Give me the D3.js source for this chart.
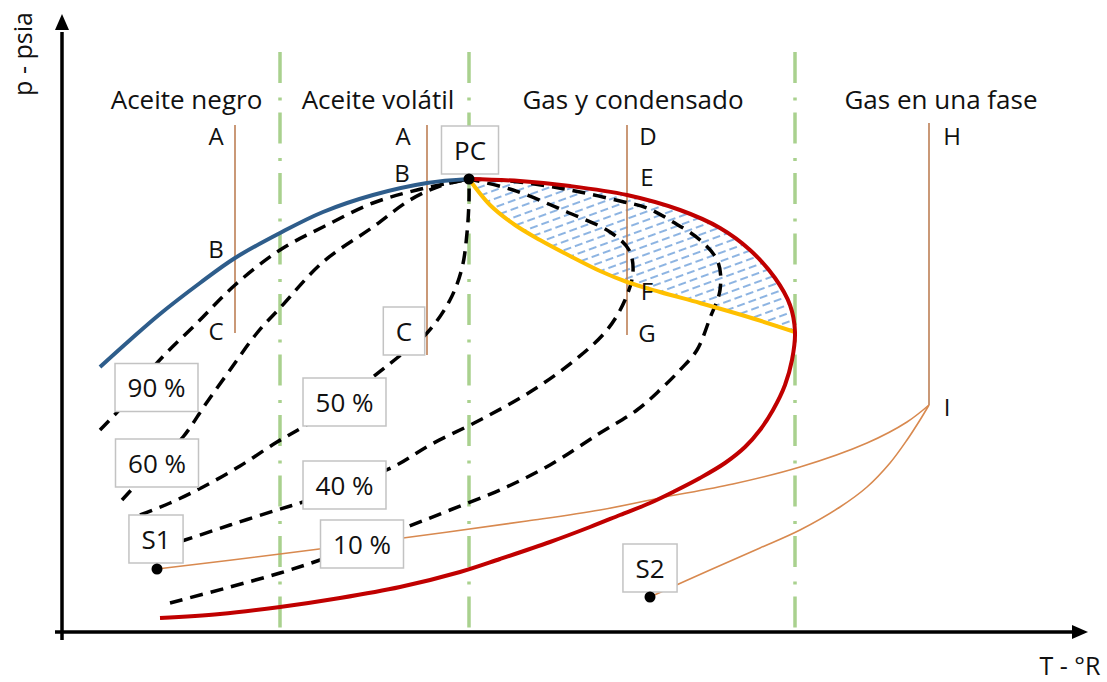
<!DOCTYPE html>
<html lang="es">
<head>
<meta charset="utf-8">
<title>Diagrama de fases p-T</title>
<script src="https://cdn.jsdelivr.net/npm/d3@7/dist/d3.min.js"></script>
<style>
  html, body { margin: 0; padding: 0; background: #fff; }
  svg { display: block; font-family: "Open Sans", "Noto Sans", sans-serif; }
</style>
</head>
<body>
<svg id="chart" width="1107" height="682"></svg>
<script>
// Schematic p-T phase envelope of a reservoir fluid (arbitrary T and p units).

// Bubble-point curve (blue), from low T up to the critical point
const bubbleCurve = [[38,265],[68,292],[98,318],[138,349],[173,374],[218,399],[261,420],[311,437],[365,449],[407,453]];
// Dew-point curve (red), from the critical point around the cricondentherm down to low p
const dewCurve = [[407,453],[458,451],[508,446],[565,437],[618,422],[658,404],[688,382],[713,354],[728,327],[733,300],
                  [730,272],[723,247],[711,222],[698,202],[683,185],[663,169],[638,154],[613,141],[588,129],[558,117],
                  [528,105],[488,90],[438,73],[398,60],[338,45],[278,34],[218,25],[158,18],[98,14]];
// Number of dew-curve points bounding the retrograde zone from above
const dewUpperCount = 10;
// Retrograde boundary (yellow), critical point to cricondentherm
const retroCurve = [[407,453],[428,427],[453,407],[478,392],[508,376],[538,361],[565,350],[598,340],[638,329],[683,316],[733,300]];

// Liquid-volume quality lines
const qualityNames = ["90 %", "60 %", "50 %", "40 %", "10 %"];
const quality90 = [[38,202],[68,234],[95,269],[135,309],[173,347],[218,382],[261,405],[311,429],[355,442],[407,453]];
const quality60 = [[60,132],[88,162],[121,195],[143,227],[168,262],[195,299],[218,324],[261,370],[311,405],[348,432],[378,446],[407,453]];
const quality50 = [[78,117],[108,129],[141,145],[178,166],[215,190],[241,205],[278,229],[311,255],[335,274],[365,299],[388,332],[400,364],[405,399],[407,432],[407,453]];
const quality40 = [[98,84],[123,92],[168,107],[215,122],[241,130],[278,144],[331,165],[368,187],[418,212],[468,240],[513,272],[545,302],[563,332],[571,360],[567,382],[548,400],[505,420],[451,442],[407,453]];
const quality10 = [[108,29],[168,45],[218,59],[258,72],[298,87],[345,105],[388,122],[438,142],[488,167],[538,199],[575,222],[598,242],[618,262],[635,282],[648,314],[658,342],[656,370],[638,392],[611,410],[585,424],[558,431],[518,440],[485,446],[448,451],[407,453]];
const qualityLines = [quality90, quality60, quality50, quality40, quality10];
// Label anchor (box centre) for each quality line
const qualityLabelT = [94.5, 95, 282.5, 282.5, 300];
const qualityLabelP = [244.5, 169, 230, 147, 88];

// Isothermal depletion paths: [T, p top, p bottom]
const isotherms = [[173,507,299],[365,507,277],[565,507,297],[867,509,227]];
// Separator paths from point I to the separators
const pathS1 = [[95,63],[218,78],[341,94],[465,111],[538,122],[598,134],[671,148],[738,165],[805,189],[845,210],[867,227]];
const pathS2 = [[588,35],[648,62],[698,84],[738,102],[778,125],[805,145],[828,169],[845,192],[858,212],[867,227]];

// Reservoir-type boundaries (temperature) and region titles
const boundaryT = [218, 407, 733];
const regionNames = ["Aceite negro", "Aceite volátil", "Gas y condensado", "Gas en una fase"];
const regionCenterT = [124.5, 316, 571, 879];

// Point letters along the isotherms
const pointNames = ["A","B","C","A","B","D","E","F","G","H","I"];
const pointT = [154, 154, 154, 341, 340, 586, 585, 585, 585, 890, 885];
const pointP = [487, 374, 292, 487, 450, 487, 446, 332, 290, 487, 216];

// Critical point and separators
const markerNames = ["PC", "S1", "S2"];
const markerT = [407, 95, 588];
const markerP = [453, 63, 35];
const markerLabelT = [408, 94, 588];
const markerLabelP = [482, 93, 64];
// Boxed label for point C of the volatile-oil isotherm
const boxedC = {name: "C", T: 342, p: 301};

const svg = d3.select("#chart");

const x = d3.scaleLinear().domain([0, 1026]).range([62, 1088]);
const y = d3.scaleLinear().domain([0, 620]).range([632, 12]);

const smooth = d3.line()
  .x(d => x(d[0])).y(d => y(d[1]))
  .curve(d3.curveCatmullRom.alpha(0.5));

// Hatch pattern for the retrograde condensation zone
const defs = svg.append("defs");
const pat = defs.append("pattern")
  .attr("id", "retro-hatch")
  .attr("patternUnits", "userSpaceOnUse")
  .attr("width", 12).attr("height", 8)
  .attr("patternTransform", "rotate(-20)");
pat.append("line")
  .attr("x1", 0).attr("y1", 4).attr("x2", 8).attr("y2", 4)
  .attr("stroke", "#8db4e2").attr("stroke-width", 2);

const upperPath = smooth(dewCurve.slice(0, dewUpperCount));
const lowerPath = smooth(retroCurve.slice().reverse());
svg.append("path")
  .attr("d", upperPath + lowerPath.replace(/^M/, "L") + "Z")
  .attr("fill", "url(#retro-hatch)")
  .attr("stroke", "none");

// Reservoir-type boundaries (green dash-dot)
svg.append("g").selectAll("line").data(boundaryT).join("line")
  .attr("x1", d => x(d)).attr("x2", d => x(d))
  .attr("y1", y(580)).attr("y2", y(0))
  .attr("stroke", "#a9d18e").attr("stroke-width", 3.5)
  .attr("stroke-dasharray", "31,14.5,3,12");

// Axes
const axisColor = "#000";
svg.append("line")
  .attr("x1", x(0)).attr("x2", x(0))
  .attr("y1", y(-8)).attr("y2", y(600))
  .attr("stroke", axisColor).attr("stroke-width", 3.5);
svg.append("path")
  .attr("d", `M${x(0)},${y(618)} L${x(0) - 7},${y(602)} L${x(0) + 7},${y(602)} Z`)
  .attr("fill", axisColor);
svg.append("line")
  .attr("x1", x(-7)).attr("x2", x(1012))
  .attr("y1", y(0)).attr("y2", y(0))
  .attr("stroke", axisColor).attr("stroke-width", 3.5);
svg.append("path")
  .attr("d", `M${x(1026)},${y(0)} L${x(1010)},${y(0) - 7} L${x(1010)},${y(0) + 7} Z`)
  .attr("fill", axisColor);

// Isothermal depletion paths
svg.append("g").selectAll("line").data(isotherms).join("line")
  .attr("x1", d => x(d[0])).attr("x2", d => x(d[0]))
  .attr("y1", d => y(d[1])).attr("y2", d => y(d[2]))
  .attr("stroke", "#bd7f55").attr("stroke-width", 1.6);

// Paths to separators
svg.append("g").selectAll("path").data([pathS1, pathS2]).join("path")
  .attr("d", smooth)
  .attr("fill", "none")
  .attr("stroke", "#d8894f").attr("stroke-width", 1.6);

// Quality lines
svg.append("g").selectAll("path").data(qualityLines).join("path")
  .attr("d", smooth)
  .attr("fill", "none")
  .attr("stroke", "#000").attr("stroke-width", 3.5)
  .attr("stroke-dasharray", "13,8");

// Bubble, dew and retrograde curves
svg.append("path").attr("d", smooth(bubbleCurve))
  .attr("fill", "none").attr("stroke", "#2e5d8b").attr("stroke-width", 4);
svg.append("path").attr("d", smooth(retroCurve))
  .attr("fill", "none").attr("stroke", "#ffc000").attr("stroke-width", 4);
svg.append("path").attr("d", smooth(dewCurve))
  .attr("fill", "none").attr("stroke", "#c00000").attr("stroke-width", 4);

// Boxed labels
function boxedLabel(text, T, p) {
  const g = svg.append("g").attr("transform", `translate(${x(T)},${y(p)})`);
  const rect = g.append("rect");
  const t = g.append("text")
    .attr("text-anchor", "middle")
    .attr("y", 9.5)
    .attr("font-size", 26)
    .attr("fill", "#111")
    .text(text);
  const w = t.node().getComputedTextLength() + 25;
  rect.attr("x", -w / 2).attr("y", -24).attr("width", w).attr("height", 48)
    .attr("fill", "#fff").attr("stroke", "#c3c3c3").attr("stroke-width", 1.5);
}
qualityNames.forEach((n, i) => boxedLabel(n, qualityLabelT[i], qualityLabelP[i]));
markerNames.forEach((n, i) => boxedLabel(n, markerLabelT[i], markerLabelP[i]));
boxedLabel(boxedC.name, boxedC.T, boxedC.p);

// Critical point and separator dots
svg.append("g").selectAll("circle").data(markerT).join("circle")
  .attr("cx", d => x(d)).attr("cy", (d, i) => y(markerP[i]))
  .attr("r", 5.5).attr("fill", "#000");

// Region titles
svg.append("g").selectAll("text").data(regionNames).join("text")
  .attr("x", (d, i) => x(regionCenterT[i])).attr("y", y(523))
  .attr("text-anchor", "middle")
  .attr("font-size", 26).attr("fill", "#111")
  .text(d => d);

// Point letters
svg.append("g").selectAll("text").data(pointNames).join("text")
  .attr("x", (d, i) => x(pointT[i])).attr("y", (d, i) => y(pointP[i]))
  .attr("text-anchor", "middle")
  .attr("font-size", 24).attr("fill", "#111")
  .text(d => d);

// Axis titles
svg.append("text")
  .attr("transform", `translate(32,${y(578)}) rotate(-90)`)
  .attr("text-anchor", "middle")
  .attr("font-size", 25).attr("fill", "#111")
  .text("p - psia");
svg.append("text")
  .attr("x", 1070).attr("y", 675)
  .attr("text-anchor", "middle")
  .attr("font-size", 25).attr("fill", "#111")
  .text("T - °R");
</script>
</body>
</html>
